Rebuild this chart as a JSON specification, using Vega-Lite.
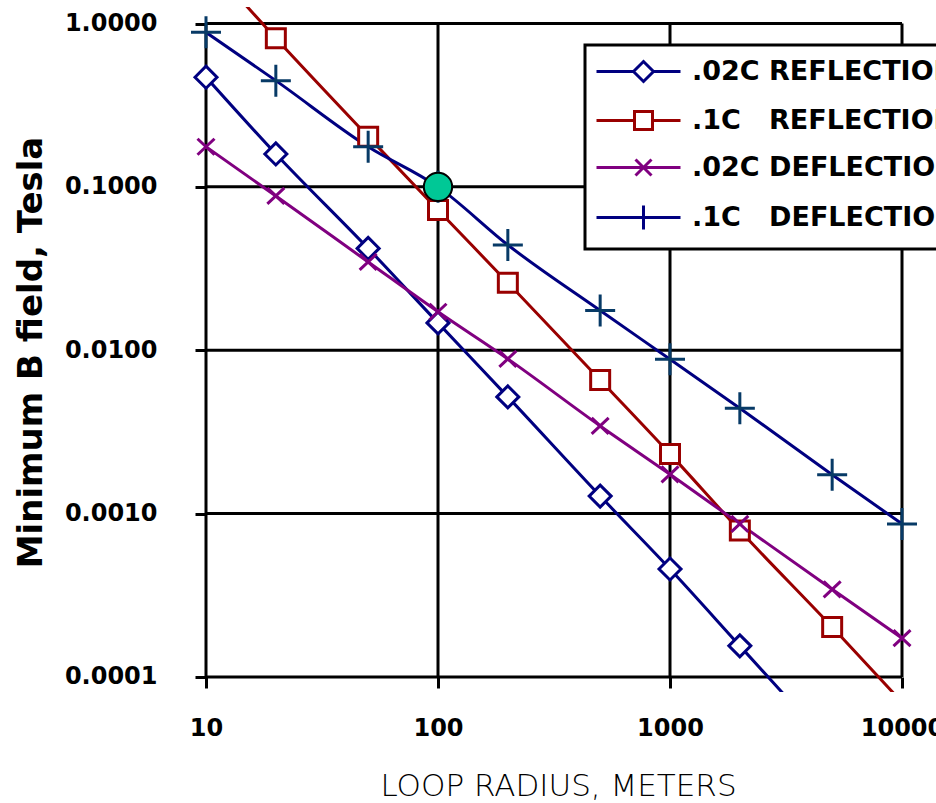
{
  "$schema": "https://vega.github.io/schema/vega-lite/v6.json",
  "width": 696,
  "height": 685,
  "autosize": {"type": "none"},
  "padding": {"left": 206, "top": 7, "right": 34, "bottom": 111},
  "background": "white",
  "config": {"view": {"stroke": null}, "font": "DejaVu Sans", "legend": {"strokeWidth": 3}},
  "datasets": {
    "curves": [
      {"series": ".02C REFLECTION", "r": 10, "B": 0.469},
      {"series": ".02C REFLECTION", "r": 20, "B": 0.159},
      {"series": ".02C REFLECTION", "r": 50, "B": 0.042},
      {"series": ".02C REFLECTION", "r": 100, "B": 0.0147},
      {"series": ".02C REFLECTION", "r": 200, "B": 0.00518},
      {"series": ".02C REFLECTION", "r": 500, "B": 0.00128},
      {"series": ".02C REFLECTION", "r": 1000, "B": 0.000458},
      {"series": ".02C REFLECTION", "r": 2000, "B": 0.000155},
      {"series": ".02C REFLECTION", "r": 5000, "B": 0.000037},
      {"series": ".1C\u00a0\u00a0\u00a0REFLECTION", "r": 10, "B": 2.4},
      {"series": ".1C\u00a0\u00a0\u00a0REFLECTION", "r": 20, "B": 0.812},
      {"series": ".1C\u00a0\u00a0\u00a0REFLECTION", "r": 50, "B": 0.203},
      {"series": ".1C\u00a0\u00a0\u00a0REFLECTION", "r": 100, "B": 0.0722},
      {"series": ".1C\u00a0\u00a0\u00a0REFLECTION", "r": 200, "B": 0.0259},
      {"series": ".1C\u00a0\u00a0\u00a0REFLECTION", "r": 500, "B": 0.00658},
      {"series": ".1C\u00a0\u00a0\u00a0REFLECTION", "r": 1000, "B": 0.00232},
      {"series": ".1C\u00a0\u00a0\u00a0REFLECTION", "r": 2000, "B": 0.000787},
      {"series": ".1C\u00a0\u00a0\u00a0REFLECTION", "r": 5000, "B": 0.000202},
      {"series": ".1C\u00a0\u00a0\u00a0REFLECTION", "r": 10000, "B": 0.00007},
      {"series": ".02C DEFLECTION", "r": 10, "B": 0.176},
      {"series": ".02C DEFLECTION", "r": 20, "B": 0.088},
      {"series": ".02C DEFLECTION", "r": 50, "B": 0.0347},
      {"series": ".02C DEFLECTION", "r": 100, "B": 0.0172},
      {"series": ".02C DEFLECTION", "r": 200, "B": 0.00885},
      {"series": ".02C DEFLECTION", "r": 500, "B": 0.00344},
      {"series": ".02C DEFLECTION", "r": 1000, "B": 0.00174},
      {"series": ".02C DEFLECTION", "r": 2000, "B": 0.000865},
      {"series": ".02C DEFLECTION", "r": 5000, "B": 0.000344},
      {"series": ".02C DEFLECTION", "r": 10000, "B": 0.000173},
      {"series": ".1C\u00a0\u00a0\u00a0DEFLECTION", "r": 10, "B": 0.883},
      {"series": ".1C\u00a0\u00a0\u00a0DEFLECTION", "r": 20, "B": 0.447},
      {"series": ".1C\u00a0\u00a0\u00a0DEFLECTION", "r": 50, "B": 0.176},
      {"series": ".1C\u00a0\u00a0\u00a0DEFLECTION", "r": 100, "B": 0.1},
      {"series": ".1C\u00a0\u00a0\u00a0DEFLECTION", "r": 200, "B": 0.0441},
      {"series": ".1C\u00a0\u00a0\u00a0DEFLECTION", "r": 500, "B": 0.0175},
      {"series": ".1C\u00a0\u00a0\u00a0DEFLECTION", "r": 1000, "B": 0.00881},
      {"series": ".1C\u00a0\u00a0\u00a0DEFLECTION", "r": 2000, "B": 0.00442},
      {"series": ".1C\u00a0\u00a0\u00a0DEFLECTION", "r": 5000, "B": 0.00173},
      {"series": ".1C\u00a0\u00a0\u00a0DEFLECTION", "r": 10000, "B": 0.000865}
    ],
    "vgrid": [
      {"r": 10, "B": 0.0001, "B2": 1},
      {"r": 100, "B": 0.0001, "B2": 1},
      {"r": 1000, "B": 0.0001, "B2": 1},
      {"r": 10000, "B": 0.0001, "B2": 1}
    ],
    "hgrid": [
      {"B": 1, "r": 10, "r2": 10000},
      {"B": 0.1, "r": 10, "r2": 10000},
      {"B": 0.01, "r": 10, "r2": 10000},
      {"B": 0.001, "r": 10, "r2": 10000},
      {"B": 0.0001, "r": 10, "r2": 10000}
    ],
    "highlight": [{"r": 100, "B": 0.1}]
  },
  "encoding": {
    "x": {
      "field": "r",
      "type": "quantitative",
      "scale": {"type": "log", "domain": [10, 10000], "nice": false},
      "axis": {
        "title": "LOOP RADIUS, METERS",
        "values": [10, 100, 1000, 10000],
        "format": "d",
        "grid": false,
        "domain": false,
        "ticks": true,
        "tickSize": 11,
        "tickWidth": 3,
        "tickColor": "black",
        "offset": -15,
        "labelFont": "DejaVu Sans",
        "labelFontWeight": "bold",
        "labelFontSize": 24,
        "labelColor": "black",
        "labelPadding": 28,
        "labelFlush": false,
        "labelOverlap": false,
        "titleFont": "DejaVu Sans",
        "titleFontWeight": 200,
        "titleFontSize": 31,
        "titleColor": "black",
        "titleX": 352,
        "titleY": 118,
        "titleBaseline": "alphabetic",
        "titleAlign": "center"
      }
    },
    "y": {
      "field": "B",
      "type": "quantitative",
      "scale": {"type": "log", "domain": [0.0000809, 1.262], "nice": false},
      "axis": {
        "title": "Minimum B field, Tesla",
        "values": [1, 0.1, 0.01, 0.001, 0.0001],
        "format": ".4f",
        "grid": false,
        "domain": false,
        "ticks": true,
        "tickSize": 11,
        "tickWidth": 3,
        "tickColor": "black",
        "labelFont": "DejaVu Sans",
        "labelFontWeight": "bold",
        "labelFontSize": 24,
        "labelColor": "black",
        "labelPadding": 38,
        "labelFlush": false,
        "labelOverlap": false,
        "titleFont": "DejaVu Sans",
        "titleFontWeight": "bold",
        "titleFontSize": 34,
        "titleColor": "black",
        "titleAngle": -90,
        "titleX": -175,
        "titleY": 345,
        "titleBaseline": "middle",
        "titleAlign": "center"
      }
    }
  },
  "layer": [
    {
      "data": {"name": "vgrid"},
      "mark": {"type": "rule", "color": "black", "strokeWidth": 3},
      "encoding": {"y2": {"field": "B2"}}
    },
    {
      "data": {"name": "hgrid"},
      "mark": {"type": "rule", "color": "black", "strokeWidth": 3},
      "encoding": {"x2": {"field": "r2"}}
    },
    {
      "data": {"name": "curves"},
      "mark": {"type": "line", "strokeWidth": 3, "interpolate": "monotone", "clip": true},
      "encoding": {
        "color": {
          "field": "series",
          "type": "nominal",
          "scale": {
            "domain": [".02C REFLECTION", ".1C\u00a0\u00a0\u00a0REFLECTION", ".02C DEFLECTION", ".1C\u00a0\u00a0\u00a0DEFLECTION"],
            "range": ["#000080", "#990000", "#800080", "#000080"]
          },
          "legend": null
        }
      }
    },
    {
      "data": {"name": "curves"},
      "transform": [{"filter": "datum.B >= 0.0001 && datum.B <= 1.01"}],
      "mark": {"type": "point", "filled": false, "fill": "white", "strokeWidth": 3, "size": 400, "opacity": 1},
      "encoding": {
        "color": {
          "field": "series",
          "type": "nominal",
          "scale": {
            "domain": [".02C REFLECTION", ".1C\u00a0\u00a0\u00a0REFLECTION", ".02C DEFLECTION", ".1C\u00a0\u00a0\u00a0DEFLECTION"],
            "range": ["#000080", "#990000", "#800080", "#073a66"]
          },
          "legend": null
        },
        "shape": {
          "field": "series",
          "type": "nominal",
          "scale": {
            "domain": [".02C REFLECTION", ".1C\u00a0\u00a0\u00a0REFLECTION", ".02C DEFLECTION", ".1C\u00a0\u00a0\u00a0DEFLECTION"],
            "range": [
              "M-1.1,0L0,-1.1L1.1,0L0,1.1Z",
              "M-0.95,-0.95H0.95V0.95H-0.95Z",
              "M-0.85,-0.8L0.85,0.8M-0.85,0.8L0.85,-0.8",
              "M-1.5,0H1.5M0,-1.6V1.6"
            ]
          },
          "legend": null
        }
      }
    },
    {
      "data": {"name": "highlight"},
      "mark": {"type": "circle", "size": 804, "fill": "#00c896", "stroke": "black", "strokeWidth": 2, "opacity": 1}
    },
    {
      "data": {"name": "curves"},
      "mark": {"type": "point", "filled": false, "size": 400, "opacity": 0},
      "encoding": {
        "shape": {
          "field": "series",
          "type": "nominal",
          "scale": {
            "domain": [".02C REFLECTION", ".1C\u00a0\u00a0\u00a0REFLECTION", ".02C DEFLECTION", ".1C\u00a0\u00a0\u00a0DEFLECTION"],
            "range": [
              "M-1.5,0H2.2M4.2,0H6.9M2.2,0L3.2,-1L4.2,0L3.2,1Z",
              "M-1.5,0H2.3M4.1,0H6.9M2.3,-0.9H4.1V0.9H2.3Z",
              "M-1.5,0H6.9M2.4,-0.8L4,0.8M2.4,0.8L4,-0.8",
              "M-1.5,0H6.9M3.2,-1.2V1.2"
            ]
          },
          "legend": {
            "orient": "none", "legendX": 379, "legendY": 38, "title": null, "padding": 13,
            "strokeColor": "black", "fillColor": "white",
            "labelFont": "DejaVu Sans", "labelFontWeight": "bold", "labelFontSize": 27, "labelColor": "black",
            "labelLimit": 1000, "labelOffset": 67, "symbolSize": 400, "symbolStrokeWidth": 3,
            "symbolFillColor": "white", "symbolOpacity": 1, "rowPadding": 17,
            "encode": {
              "symbols": {"update": {"fill": {"value": "white"}, "opacity": {"value": 1}}}
            }
          }
        },
        "stroke": {
          "field": "series",
          "type": "nominal",
          "scale": {
            "domain": [".02C REFLECTION", ".1C\u00a0\u00a0\u00a0REFLECTION", ".02C DEFLECTION", ".1C\u00a0\u00a0\u00a0DEFLECTION"],
            "range": ["#000080", "#990000", "#800080", "#000080"]
          },
          "legend": {
            "orient": "none", "legendX": 379, "legendY": 38, "title": null, "padding": 13,
            "strokeColor": "black", "fillColor": "white",
            "labelFont": "DejaVu Sans", "labelFontWeight": "bold", "labelFontSize": 27, "labelColor": "black",
            "labelLimit": 1000, "labelOffset": 67, "symbolSize": 400, "symbolStrokeWidth": 3,
            "symbolFillColor": "white", "symbolOpacity": 1, "rowPadding": 17,
            "encode": {
              "symbols": {"update": {"fill": {"value": "white"}, "opacity": {"value": 1}}}
            }
          }
        }
      }
    }
  ],
  "resolve": {
    "scale": {"color": "independent", "shape": "independent", "stroke": "independent"},
    "legend": {"shape": "independent", "stroke": "independent"}
  }
}
